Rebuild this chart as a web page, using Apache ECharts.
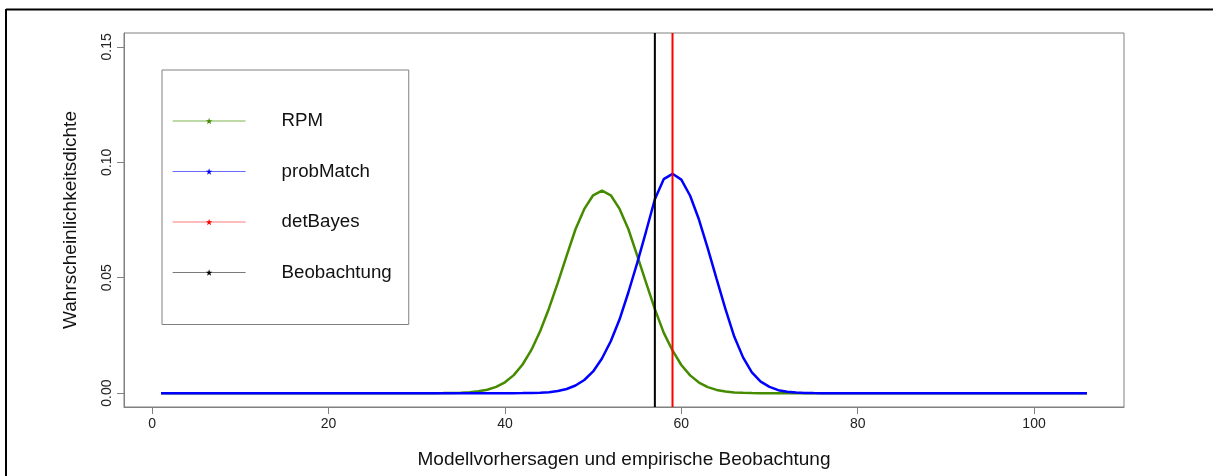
<!DOCTYPE html>
<html>
<head>
<meta charset="utf-8">
<script src="https://cdn.jsdelivr.net/npm/echarts@6/dist/echarts.min.js"></script>
<style>
  html, body { margin: 0; padding: 0; background: #fff; }
  #chart { width: 1213px; height: 476px; }
</style>
</head>
<body>
<div id="chart"></div>
<script>
// Densities of model predictions, evaluated at x = 1 ... 106
const densityRPM = [
  0, 0, 0, 0, 0, 0, 0, 0, 0, 0,
  0, 0, 0, 0, 0, 0, 0, 0, 0, 0,
  0, 0, 0, 0, 0, 0, 0, 0, 0, 0,
  0, 0, 0.00003, 0.00008, 0.0002, 0.0004, 0.0008, 0.0015, 0.0027, 0.0047,
  0.0078, 0.0124, 0.0187, 0.0269, 0.0368, 0.0479, 0.0596, 0.0710, 0.0798, 0.0857,
  0.0877, 0.0857, 0.0798, 0.0710, 0.0596, 0.0479, 0.0364, 0.0262, 0.0185, 0.0122,
  0.0077, 0.0046, 0.0026, 0.0014, 0.0007, 0.0003, 0.00013, 0.00005, 0, 0,
  0, 0, 0, 0, 0, 0, 0, 0, 0, 0,
  0, 0, 0, 0, 0, 0, 0, 0, 0, 0,
  0, 0, 0, 0, 0, 0, 0, 0, 0, 0,
  0, 0, 0, 0, 0, 0
];
const densityProbMatch = [
  0, 0, 0, 0, 0, 0, 0, 0, 0, 0,
  0, 0, 0, 0, 0, 0, 0, 0, 0, 0,
  0, 0, 0, 0, 0, 0, 0, 0, 0, 0,
  0, 0, 0, 0, 0, 0, 0, 0, 0, 0,
  0, 0.00003, 0.00008, 0.0002, 0.0004, 0.0009, 0.0018, 0.0033, 0.0057, 0.0094,
  0.0150, 0.0225, 0.0320, 0.0437, 0.0564, 0.0700, 0.0840, 0.0927, 0.0950, 0.0925,
  0.0855, 0.0752, 0.0627, 0.0495, 0.0365, 0.0245, 0.0155, 0.0090, 0.0050, 0.0027,
  0.0013, 0.0006, 0.00025, 0.0001, 0.00004, 0, 0, 0, 0, 0,
  0, 0, 0, 0, 0, 0, 0, 0, 0, 0,
  0, 0, 0, 0, 0, 0, 0, 0, 0, 0,
  0, 0, 0, 0, 0, 0
];
const detBayesValue = 59;
const observationValue = 57;

const xTicks = [0, 20, 40, 60, 80, 100];
const yTicks = [0, 0.05, 0.10, 0.15];
const seriesNames = ['RPM', 'probMatch', 'detBayes', 'Beobachtung'];
const seriesColors = ['#458B00', '#0000FF', '#FF0000', '#000000'];
// thin legend keys render softer than the plotted lines
const legendLineColors = ['#7cb350', '#6a6aff', '#ff7a7a', '#7a7a7a'];
const xTitle = 'Modellvorhersagen und empirische Beobachtung';
const yTitle = 'Wahrscheinlichkeitsdichte';

const X_MIN = -3.2, X_MAX = 110.2;
const Y_MIN = -0.006, Y_MAX = 0.156;

const xGrid = densityRPM.map((_, i) => i + 1);
const pairs = (ys) => ys.map((y, i) => [xGrid[i], y]);
const vertical = (x) => [[x, Y_MIN], [x, Y_MAX]];

const STAR = 'path://M0,-10L2.35,-3.24L9.51,-3.09L3.8,1.24L5.88,8.09L0,4L-5.88,8.09L-3.8,1.24L-9.51,-3.09L-2.35,-3.24Z';
const FONT = '"Liberation Sans", Arial, sans-serif';

const chart = echarts.init(document.getElementById('chart'), null, { renderer: 'canvas' });

function lineSeries(idx, data, width, z) {
  const color = seriesColors[idx];
  return {
    name: seriesNames[idx], type: 'line', data: data,
    symbol: STAR, symbolSize: 7, showSymbol: false,
    lineStyle: { color: color, width: width }, itemStyle: { color: color },
    z: z
  };
}

chart.setOption({
  animation: false,
  backgroundColor: '#fff',
  textStyle: { fontFamily: FONT },
  grid: {
    left: 124, right: 89, top: 33, bottom: 69,
    show: true, borderColor: '#808080', borderWidth: 1, backgroundColor: 'transparent'
  },
  graphic: [
    { type: 'line', shape: { x1: 6, y1: 9.5, x2: 1213, y2: 9.5 }, style: { stroke: '#000', lineWidth: 2 } },
    { type: 'line', shape: { x1: 6, y1: 9, x2: 6, y2: 476 }, style: { stroke: '#000', lineWidth: 2 } }
  ],
  legend: {
    orient: 'vertical',
    left: 162, top: 70,
    data: seriesNames.map((name, i) => ({
      name: name,
      lineStyle: { color: legendLineColors[i], width: 1.2 },
      itemStyle: { color: seriesColors[i] }
    })),
    itemWidth: 73, itemHeight: 8,
    itemGap: 30.5,
    padding: [41, 17, 42, 10],
    borderColor: '#808080', borderWidth: 1,
    selectedMode: false,
    textStyle: {
      fontFamily: FONT, fontSize: 18.7, color: '#111',
      lineHeight: 20, padding: [0, 0, 0, 31]
    }
  },
  xAxis: {
    type: 'value', min: X_MIN, max: X_MAX,
    name: xTitle, nameLocation: 'middle', nameGap: 43,
    nameTextStyle: { fontFamily: FONT, fontSize: 19, color: '#111' },
    axisLine: { show: true, onZero: false, lineStyle: { color: '#808080', width: 1 } },
    axisTick: { show: true, length: 7, lineStyle: { color: '#808080' }, customValues: xTicks },
    axisLabel: {
      customValues: xTicks, margin: 10,
      fontFamily: FONT, fontSize: 14, color: '#222',
      formatter: (v) => String(v)
    },
    splitLine: { show: false }
  },
  yAxis: {
    type: 'value', min: Y_MIN, max: Y_MAX,
    name: yTitle, nameLocation: 'middle', nameGap: 44, nameRotate: 90,
    nameTextStyle: { fontFamily: FONT, fontSize: 19, color: '#111' },
    axisLine: { show: true, onZero: false, lineStyle: { color: '#808080', width: 1 } },
    axisTick: { show: true, length: 7, lineStyle: { color: '#808080' }, customValues: yTicks },
    axisLabel: {
      customValues: yTicks, margin: 10, rotate: 90,
      fontFamily: FONT, fontSize: 14, color: '#222',
      formatter: (v) => v.toFixed(2)
    },
    splitLine: { show: false }
  },
  series: [
    lineSeries(0, pairs(densityRPM), 2.5, 2),
    lineSeries(1, pairs(densityProbMatch), 2.5, 3),
    lineSeries(2, vertical(detBayesValue), 2, 4),
    lineSeries(3, vertical(observationValue), 2, 4)
  ]
});
</script>
</body>
</html>
